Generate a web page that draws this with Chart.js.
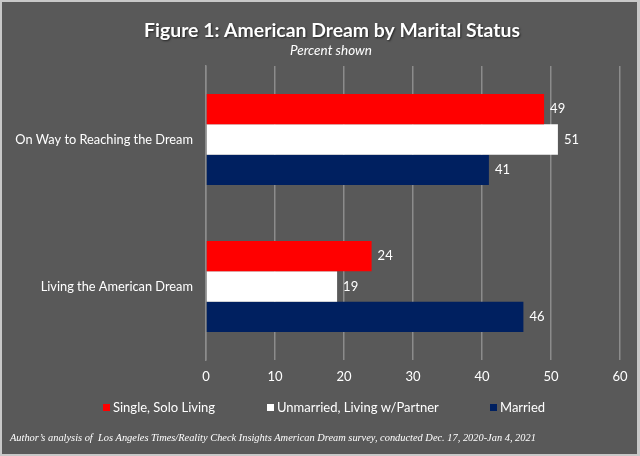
<!DOCTYPE html>
<html>
<head>
<meta charset="utf-8">
<script src="https://cdn.jsdelivr.net/npm/chart.js@4"></script>
<style>
html,body{margin:0;padding:0;background:#ffffff;}
#wrap{width:640px;height:456px;position:relative;}
</style>
</head>
<body>
<div id="wrap"><canvas id="c" width="640" height="456"></canvas></div>
<script>
const categories = ["On Way to Reaching the Dream", "Living the American Dream"];
const seriesNames = ["Single, Solo Living", "Unmarried, Living w/Partner", "Married"];
const singleSolo = [49, 24];
const unmarriedPartner = [51, 19];
const married = [41, 46];
const xTicks = [0, 10, 20, 30, 40, 50, 60];
const titleText = "Figure 1: American Dream by Marital Status";
const subtitleText = "Percent shown";
const footnoteText = "Author\u2019s analysis of  Los Angeles Times/Reality Check Insights American Dream survey, conducted Dec. 17, 2020-Jan 4, 2021";

const colors = ["#ff0000", "#ffffff", "#002060"];
const SANS = "Lato, 'Open Sans', sans-serif";

const bgPlugin = {
  id: "bg",
  beforeDraw(chart) {
    const ctx = chart.ctx;
    ctx.save();
    ctx.fillStyle = "#c8c8c8";
    ctx.fillRect(0, 0, chart.width, chart.height);
    ctx.fillStyle = "#595959";
    ctx.fillRect(2, 2, chart.width - 5, chart.height - 4);
    ctx.restore();
  }
};

const textPlugin = {
  id: "texts",
  afterDraw(chart) {
    const ctx = chart.ctx;
    ctx.save();
    // title
    ctx.textAlign = "center";
    ctx.textBaseline = "middle";
    ctx.shadowColor = "rgba(0,0,0,0.6)";
    ctx.shadowOffsetX = 1;
    ctx.shadowOffsetY = 1;
    ctx.shadowBlur = 2;
    ctx.fillStyle = "#ffffff";
    ctx.font = "bold 19.4px " + SANS;
    ctx.fillText(titleText, 332, 31);
    ctx.shadowColor = "transparent";
    ctx.font = "italic 13.5px " + SANS;
    ctx.fillText(subtitleText, 331, 51);

    // legend
    const legendX = [103, 267, 490];
    ctx.font = "13px " + SANS;
    ctx.textAlign = "left";
    chart.data.datasets.forEach((ds, i) => {
      ctx.fillStyle = ds.backgroundColor;
      ctx.fillRect(legendX[i], 404, 7, 7);
      ctx.fillStyle = "#ffffff";
      ctx.fillText(ds.label, legendX[i] + 10, 408);
    });

    // footnote
    ctx.font = "italic 10.4px 'Liberation Serif', 'DejaVu Serif', serif";
    ctx.fillStyle = "#ffffff";
    ctx.fillText(footnoteText, 10, 438);

    // data labels
    ctx.font = "13px " + SANS;
    ctx.textBaseline = "middle";
    chart.data.datasets.forEach((ds, i) => {
      const meta = chart.getDatasetMeta(i);
      meta.data.forEach((bar, j) => {
        ctx.fillStyle = "#ffffff";
        ctx.fillText(String(ds.data[j]), bar.x + 6, bar.y);
      });
    });
    ctx.restore();
  }
};

new Chart(document.getElementById("c"), {
  type: "bar",
  data: {
    labels: categories,
    datasets: [
      { label: seriesNames[0], data: singleSolo, backgroundColor: colors[0] },
      { label: seriesNames[1], data: unmarriedPartner, backgroundColor: colors[1] },
      { label: seriesNames[2], data: married, backgroundColor: colors[2] }
    ]
  },
  options: {
    indexAxis: "y",
    responsive: false,
    animation: false,
    devicePixelRatio: 1,
    layout: { padding: { left: 0, right: 20, top: 66, bottom: 66 } },
    datasets: { bar: { barPercentage: 1.0, categoryPercentage: 0.62 } },
    plugins: {
      legend: { display: false },
      title: { display: false },
      tooltip: { enabled: false }
    },
    scales: {
      x: {
        min: 0, max: 60,
        afterBuildTicks(scale) { scale.ticks = xTicks.map(v => ({ value: v })); },
        afterFit(scale) { scale.height = 30; },
        grid: { color: "#8c8c8c", lineWidth: 1.5, drawTicks: false },
        border: { display: false },
        ticks: { color: "#ffffff", padding: 9, font: { family: SANS, size: 13 } }
      },
      y: {
        afterFit(scale) { scale.width = 206; },
        grid: { display: false, drawTicks: false },
        border: { display: true, color: "#8c8c8c", width: 1.5 },
        ticks: { color: "#ffffff", padding: 13, font: { family: SANS, size: 12.8 } }
      }
    }
  },
  plugins: [bgPlugin, textPlugin]
});
</script>
</body>
</html>
